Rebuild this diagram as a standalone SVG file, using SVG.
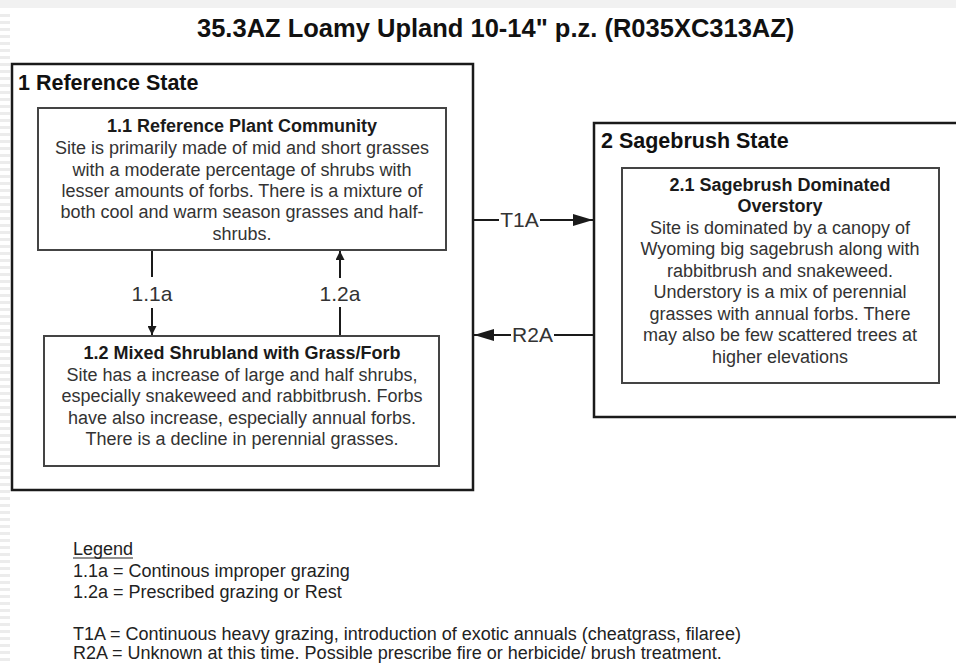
<svg xmlns="http://www.w3.org/2000/svg" width="956" height="664" viewBox="0 0 956 664">
  <style>
    text { font-family: "Liberation Sans", Arial, sans-serif; }
    .title { font-size: 25.5px; font-weight: bold; fill: #111; }
    .state { font-size: 21.5px; font-weight: bold; fill: #111; }
    .ptitle { font-size: 18px; font-weight: bold; fill: #1a1a1a; text-anchor: middle; }
    .body { font-size: 18px; fill: #333; text-anchor: middle; }
    .lbl { font-size: 21px; fill: #333; }
    .legend { font-size: 18px; fill: #222; }
    .outer { fill: none; stroke: #1a1a1a; stroke-width: 2.5; }
    .inner { fill: none; stroke: #444; stroke-width: 2; }
    .conn { stroke: #1a1a1a; stroke-width: 2; fill: none; }
  </style>
  <defs>
    <marker id="big" viewBox="0 0 20 12" refX="20" refY="6" markerWidth="20" markerHeight="12" markerUnits="userSpaceOnUse" orient="auto">
      <path d="M0,0 L20,6 L0,12 Z" fill="#1a1a1a"/>
    </marker>
    <marker id="small" viewBox="0 0 10 10" refX="10" refY="5" markerWidth="10" markerHeight="9" markerUnits="userSpaceOnUse" orient="auto">
      <path d="M0,0 L10,5 L0,10 Z" fill="#1a1a1a"/>
    </marker>
    <pattern id="stripes" width="10" height="7" patternUnits="userSpaceOnUse">
      <rect x="0" y="0" width="10" height="3" fill="#ececec"/>
    </pattern>
  </defs>

  <rect x="0" y="0" width="956" height="664" fill="#ffffff"/>
  <rect x="0" y="0" width="956" height="8" fill="#f1f1f1"/>
  <rect x="0" y="10" width="10" height="654" fill="url(#stripes)"/>

  <text class="title" x="197" y="37">35.3AZ Loamy Upland 10-14" p.z. (R035XC313AZ)</text>

  <g id="state1">
    <rect class="outer" x="12" y="64" width="461" height="426"/>
    <text class="state" x="18" y="90">1 Reference State</text>
  </g>

  <g id="community1_1">
    <rect class="inner" x="38" y="108" width="408" height="142"/>
    <text class="ptitle" x="242" y="132">1.1 Reference Plant Community</text>
    <text class="body" x="242" y="154">Site is primarily made of mid and short grasses</text>
    <text class="body" x="242" y="176">with a moderate percentage of shrubs with</text>
    <text class="body" x="242" y="197">lesser amounts of forbs. There is a mixture of</text>
    <text class="body" x="242" y="218">both cool and warm season grasses and half-</text>
    <text class="body" x="242" y="240">shrubs.</text>
  </g>

  <g id="community1_2">
    <rect class="inner" x="44" y="336" width="395" height="130"/>
    <text class="ptitle" x="242" y="359">1.2 Mixed Shrubland with Grass/Forb</text>
    <text class="body" x="242" y="381">Site has a increase of large and half shrubs,</text>
    <text class="body" x="242" y="402">especially snakeweed and rabbitbrush. Forbs</text>
    <text class="body" x="242" y="424">have also increase, especially annual forbs.</text>
    <text class="body" x="242" y="445">There is a decline in perennial grasses.</text>
  </g>

  <g id="state2">
    <rect class="outer" x="594" y="123" width="380" height="294"/>
    <text class="state" x="601" y="148">2 Sagebrush State</text>
  </g>

  <g id="community2_1">
    <rect class="inner" x="622" y="168" width="317" height="215"/>
    <text class="ptitle" x="780" y="191">2.1 Sagebrush Dominated</text>
    <text class="ptitle" x="780" y="212">Overstory</text>
    <text class="body" x="780" y="234">Site is dominated by a canopy of</text>
    <text class="body" x="780" y="255">Wyoming big sagebrush along with</text>
    <text class="body" x="780" y="277">rabbitbrush and snakeweed.</text>
    <text class="body" x="780" y="298">Understory is a mix of  perennial</text>
    <text class="body" x="780" y="320">grasses with annual forbs. There</text>
    <text class="body" x="780" y="341">may also be few scattered trees at</text>
    <text class="body" x="780" y="363">higher elevations</text>
  </g>

  <g id="connectors">
    <line class="conn" x1="152" y1="251" x2="152" y2="277"/>
    <line class="conn" x1="152" y1="308" x2="152" y2="335" marker-end="url(#small)"/>
    <text class="lbl" x="152" y="301" text-anchor="middle">1.1a</text>

    <line class="conn" x1="340" y1="278" x2="340" y2="251" marker-end="url(#small)"/>
    <line class="conn" x1="340" y1="307" x2="340" y2="335"/>
    <text class="lbl" x="340" y="301" text-anchor="middle">1.2a</text>

    <line class="conn" x1="474" y1="220" x2="499" y2="220"/>
    <line class="conn" x1="540" y1="220" x2="593" y2="220" marker-end="url(#big)"/>
    <text class="lbl" x="519.5" y="227" text-anchor="middle">T1A</text>

    <line class="conn" x1="593" y1="335" x2="554" y2="335"/>
    <line class="conn" x1="511" y1="335" x2="474" y2="335" marker-end="url(#big)"/>
    <text class="lbl" x="532.5" y="342" text-anchor="middle">R2A</text>
  </g>

  <g id="legend">
    <text class="legend" x="73" y="555">Legend</text>
    <line x1="73" y1="558" x2="133" y2="558" stroke="#222" stroke-width="1"/>
    <text class="legend" x="73" y="577">1.1a = Continous improper grazing</text>
    <text class="legend" x="73" y="598">1.2a = Prescribed grazing or Rest</text>
    <text class="legend" x="73" y="640">T1A = Continuous heavy grazing, introduction of exotic annuals (cheatgrass, filaree)</text>
    <text class="legend" x="73" y="659">R2A = Unknown at this time. Possible prescribe fire or herbicide/ brush treatment.</text>
  </g>
</svg>
